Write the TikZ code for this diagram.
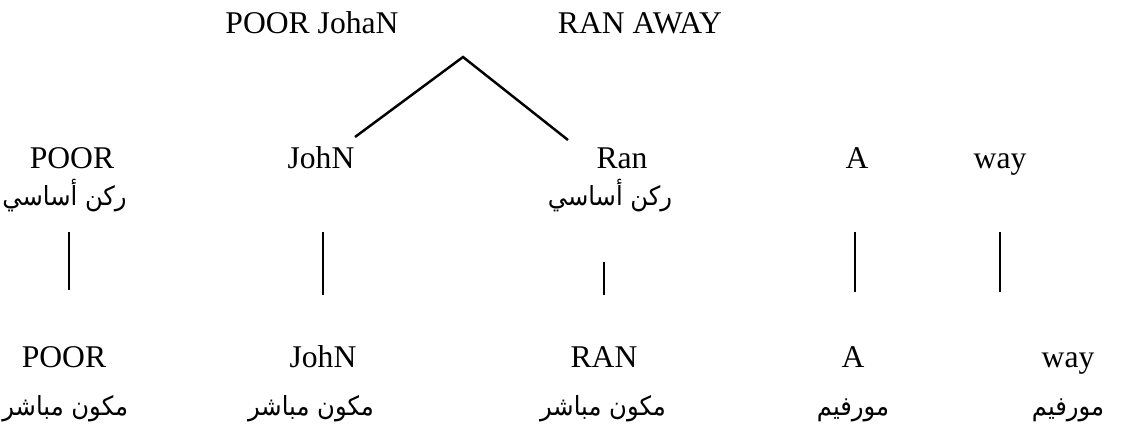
\documentclass[tikz,border=0pt]{standalone}
\usepackage{fontspec}
\setmainfont{Liberation Serif}
\newfontfamily\arabicfont[Script=Arabic,FakeStretch=0.92]{DejaVu Sans}
\TeXXeTstate=1
\usetikzlibrary{positioning}

% Arabic glosses, right to left
\newcommand{\argl}[1]{{\arabicfont\beginR #1\endR}}

\begin{document}
\begin{tikzpicture}[
  x=0.02cm, y=-0.02cm,
  font=\fontsize{18}{21}\selectfont,
  word/.style={inner sep=0pt, anchor=base},
  gloss/.style={word, font=\fontsize{15}{17}\selectfont},
  branch/.style={line width=1.4pt},
  stem/.style={line width=1pt},
]
  \useasboundingbox (0,0) rectangle (1125,430);

  % top level
  \node[word] (poorjohn) at (312,33) {POOR JohaN};
  \node[word] (ranaway) at (640,33) {RAN AWAY};

  % constituents
  \node[word] (poor) at (72,168) {POOR};
  \node[word] (john) at (321,168) {JohN};
  \node[word] (ran) at (622,168) {Ran};
  \node[word] (a) at (857,168) {A};
  \node[word] (way) at (1000,168) {way};

  \node[gloss, anchor=base west] (base1) at (2,205) {\argl{ركن أساسي}};
  \node[gloss] (base2) at (610,205) {\argl{ركن أساسي}};

  % immediate constituents / morphemes
  \node[word] (POOR) at (64,367) {POOR};
  \node[word] (JOHN) at (323,367) {JohN};
  \node[word] (RAN) at (604,367) {RAN};
  \node[word] (A) at (853,367) {A};
  \node[word] (WAY) at (1068,367) {way};

  \node[gloss, anchor=base west] (imm1) at (2,415) {\argl{مكون مباشر}};
  \node[gloss] (imm2) at (311,415) {\argl{مكون مباشر}};
  \node[gloss] (imm3) at (603,415) {\argl{مكون مباشر}};
  \node[gloss] (morph1) at (853,415) {\argl{مورفيم}};
  \node[gloss] (morph2) at (1068,415) {\argl{مورفيم}};

  % the split
  \coordinate (apex) at (463,57);
  \coordinate (lfoot) at (355,137);
  \coordinate (rfoot) at (568,140);
  \draw[branch] (lfoot) -- (apex) -- (rfoot);

  % vertical stems
  \coordinate (s1) at (69,232);   \coordinate (e1) at (69,290);
  \coordinate (s2) at (323,232);  \coordinate (e2) at (323,295);
  \coordinate (s3) at (604,262);  \coordinate (e3) at (604,295);
  \coordinate (s4) at (855,232);  \coordinate (e4) at (855,292);
  \coordinate (s5) at (1000,232); \coordinate (e5) at (1000,292);
  \foreach \i in {1,...,5}
    \draw[stem] (s\i) -- (e\i);
\end{tikzpicture}
\end{document}
